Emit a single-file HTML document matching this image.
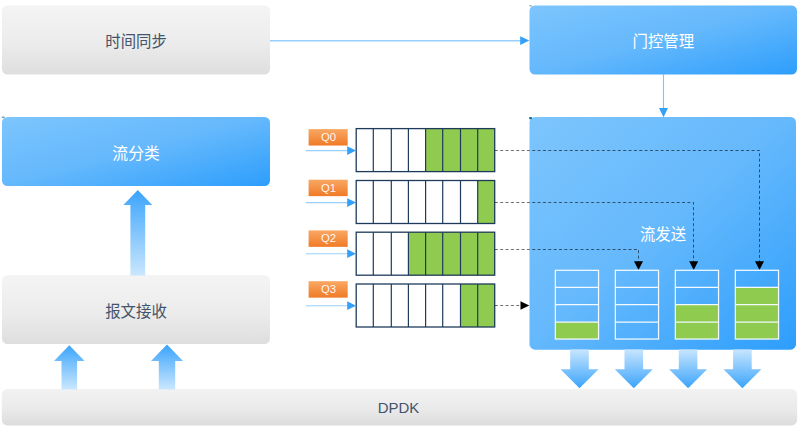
<!DOCTYPE html>
<html lang="zh"><head><meta charset="utf-8"><title>TSN</title>
<style>
html,body{margin:0;padding:0;background:#fff;}
body{width:800px;height:434px;position:relative;overflow:hidden;font-family:"Liberation Sans",sans-serif;}
svg{display:block;}
</style></head><body>
<svg width="800" height="434" viewBox="0 0 800 434" style="position:absolute;left:0;top:0">
<defs>
<linearGradient id="gUp1" x1="0" y1="190" x2="0" y2="275" gradientUnits="userSpaceOnUse"><stop offset="0" stop-color="#3BA4FB"/><stop offset="1" stop-color="#C9E6FE"/></linearGradient>
<linearGradient id="gUp2" x1="0" y1="345" x2="0" y2="389" gradientUnits="userSpaceOnUse"><stop offset="0" stop-color="#3BA4FB"/><stop offset="1" stop-color="#C9E6FE"/></linearGradient>
<linearGradient id="gDn" x1="0" y1="349" x2="0" y2="388" gradientUnits="userSpaceOnUse"><stop offset="0" stop-color="#C9E6FE"/><stop offset="1" stop-color="#3BA4FB"/></linearGradient>
<linearGradient id="gOr0" x1="0" y1="129.1" x2="0" y2="145.54999999999998" gradientUnits="userSpaceOnUse"><stop offset="0" stop-color="#F9A864"/><stop offset="1" stop-color="#F07A27"/></linearGradient>
<linearGradient id="gOr1" x1="0" y1="179.7" x2="0" y2="196.14999999999998" gradientUnits="userSpaceOnUse"><stop offset="0" stop-color="#F9A864"/><stop offset="1" stop-color="#F07A27"/></linearGradient>
<linearGradient id="gOr2" x1="0" y1="230.4" x2="0" y2="246.85" gradientUnits="userSpaceOnUse"><stop offset="0" stop-color="#F9A864"/><stop offset="1" stop-color="#F07A27"/></linearGradient>
<linearGradient id="gOr3" x1="0" y1="281.2" x2="0" y2="297.65" gradientUnits="userSpaceOnUse"><stop offset="0" stop-color="#F9A864"/><stop offset="1" stop-color="#F07A27"/></linearGradient>
<linearGradient id="gGray" x1="0" y1="0" x2="0" y2="1"><stop offset="0" stop-color="#f4f4f4"/><stop offset="0.55" stop-color="#ececec"/><stop offset="1" stop-color="#dedede"/></linearGradient>
<linearGradient id="gBar" x1="0" y1="0" x2="0" y2="1"><stop offset="0" stop-color="#f2f2f2"/><stop offset="0.6" stop-color="#e9e9e9"/><stop offset="1" stop-color="#dcdcdc"/></linearGradient>
<linearGradient id="gBlue" x1="0" y1="0" x2="1" y2="1"><stop offset="0" stop-color="#7DC5FD"/><stop offset="0.5" stop-color="#64B8FC"/><stop offset="1" stop-color="#2D9EFC"/></linearGradient>
</defs>
<rect x="2" y="5.5" width="268" height="69" rx="5.5" ry="5.5" fill="url(#gGray)"/>
<rect x="529.5" y="5.5" width="267.5" height="69" rx="5.5" ry="5.5" fill="url(#gBlue)"/>
<rect x="2" y="117" width="268" height="69" rx="5.5" ry="5.5" fill="url(#gBlue)"/>
<rect x="2" y="275" width="268" height="69" rx="5.5" ry="5.5" fill="url(#gGray)"/>
<rect x="529.5" y="117" width="266.5" height="232.7" rx="5.5" ry="5.5" fill="url(#gBlue)"/>
<rect x="1.8" y="388.9" width="795.3" height="36.5" rx="5.5" ry="5.5" fill="url(#gBar)"/>
<text transform="translate(377.66,412.66) scale(0.99,1.03)" x="0" y="0" font-family="'Liberation Sans', sans-serif" font-size="15.1" fill="#44546A">DPDK</text>
<line x1="270" y1="40.75" x2="522" y2="40.75" stroke="#98CFFB" stroke-width="1.4"/>
<path fill="#33A0FA" d="M520.2,36.2 L529.3,40.6 L520.2,45 Z"/>
<line x1="663.5" y1="74" x2="663.5" y2="109" stroke="#7EC3FA" stroke-width="1.1"/>
<path fill="#33A0FA" d="M659,108 L668,108 L663.5,117.2 Z"/>
<path fill="url(#gUp1)" d="M137.8,190 L152.3,205 L145.20000000000002,205 L145.20000000000002,275.5 L130.4,275.5 L130.4,205 L123.30000000000001,205 Z"/>
<path fill="url(#gUp2)" d="M69.3,345.2 L84.6,361 L77.1,361 L77.1,389.5 L61.5,389.5 L61.5,361 L54.0,361 Z"/>
<path fill="url(#gUp2)" d="M167,344.6 L183,361 L175.2,361 L175.2,389.5 L158.8,389.5 L158.8,361 L151,361 Z"/>
<path fill="url(#gDn)" d="M570.2,349.5 L588.8,349.5 L588.8,369.3 L598.5,369.3 L579.5,388.3 L560.5,369.3 L570.2,369.3 Z"/>
<path fill="url(#gDn)" d="M624.5,349.5 L643.0999999999999,349.5 L643.0999999999999,369.3 L652.8,369.3 L633.8,388.3 L614.8,369.3 L624.5,369.3 Z"/>
<path fill="url(#gDn)" d="M678.8000000000001,349.5 L697.4,349.5 L697.4,369.3 L707.1,369.3 L688.1,388.3 L669.1,369.3 L678.8000000000001,369.3 Z"/>
<path fill="url(#gDn)" d="M733.1,349.5 L751.6999999999999,349.5 L751.6999999999999,369.3 L761.4,369.3 L742.4,388.3 L723.4,369.3 L733.1,369.3 Z"/>
<rect x="356.2" y="128.6" width="138.5" height="43.0" fill="#fff"/>
<rect x="425.60" y="128.6" width="69.10" height="43.0" fill="#8FCB4E"/>
<path d="M373.30,128.6 V171.6M391.30,128.6 V171.6M408.40,128.6 V171.6M425.60,128.6 V171.6M442.70,128.6 V171.6M460.50,128.6 V171.6M477.70,128.6 V171.6" stroke="#1F3B5C" stroke-width="1.2" fill="none"/>
<rect x="356.2" y="128.6" width="138.5" height="43.0" fill="none" stroke="#1F3B5C" stroke-width="1.3"/>
<line x1="305.8" y1="150.55" x2="349" y2="150.55" stroke="#98CFFB" stroke-width="1.15"/>
<path fill="#33A0FA" d="M347.2,146.2 L356,150.55 L347.2,155.0 Z"/>
<rect x="356.2" y="180.5" width="138.5" height="43.0" fill="#fff"/>
<rect x="477.70" y="180.5" width="17.00" height="43.0" fill="#8FCB4E"/>
<path d="M373.30,180.5 V223.5M391.30,180.5 V223.5M408.40,180.5 V223.5M425.60,180.5 V223.5M442.70,180.5 V223.5M460.50,180.5 V223.5M477.70,180.5 V223.5" stroke="#1F3B5C" stroke-width="1.2" fill="none"/>
<rect x="356.2" y="180.5" width="138.5" height="43.0" fill="none" stroke="#1F3B5C" stroke-width="1.3"/>
<line x1="305.8" y1="202.6" x2="349" y2="202.6" stroke="#98CFFB" stroke-width="1.15"/>
<path fill="#33A0FA" d="M347.2,198.2 L356,202.6 L347.2,207.0 Z"/>
<rect x="356.2" y="232.2" width="138.5" height="43.0" fill="#fff"/>
<rect x="408.40" y="232.2" width="86.30" height="43.0" fill="#8FCB4E"/>
<path d="M373.30,232.2 V275.2M391.30,232.2 V275.2M408.40,232.2 V275.2M425.60,232.2 V275.2M442.70,232.2 V275.2M460.50,232.2 V275.2M477.70,232.2 V275.2" stroke="#1F3B5C" stroke-width="1.2" fill="none"/>
<rect x="356.2" y="232.2" width="138.5" height="43.0" fill="none" stroke="#1F3B5C" stroke-width="1.3"/>
<line x1="305.8" y1="253.7" x2="349" y2="253.7" stroke="#98CFFB" stroke-width="1.15"/>
<path fill="#33A0FA" d="M347.2,249.3 L356,253.7 L347.2,258.1 Z"/>
<rect x="356.2" y="284.0" width="138.5" height="43.0" fill="#fff"/>
<rect x="460.50" y="284.0" width="34.20" height="43.0" fill="#8FCB4E"/>
<path d="M373.30,284.0 V327.0M391.30,284.0 V327.0M408.40,284.0 V327.0M425.60,284.0 V327.0M442.70,284.0 V327.0M460.50,284.0 V327.0M477.70,284.0 V327.0" stroke="#1F3B5C" stroke-width="1.2" fill="none"/>
<rect x="356.2" y="284.0" width="138.5" height="43.0" fill="none" stroke="#1F3B5C" stroke-width="1.3"/>
<line x1="305.8" y1="305.7" x2="349" y2="305.7" stroke="#98CFFB" stroke-width="1.15"/>
<path fill="#33A0FA" d="M347.2,301.3 L356,305.7 L347.2,310.1 Z"/>
<path d="M494.8,150.5 H759.5 V262" fill="none" stroke="#000" stroke-width="1" stroke-dasharray="3 2.35" stroke-opacity="0.56"/>
<path fill="#000" d="M755.0,261.3 L764.0,261.3 L759.5,270.0 Z"/>
<path d="M494.8,202.5 H693.5 V262" fill="none" stroke="#000" stroke-width="1" stroke-dasharray="3 2.35" stroke-opacity="0.56"/>
<path fill="#000" d="M689.2,261.3 L698.2,261.3 L693.7,270.0 Z"/>
<path d="M494.8,249.5 H638.5 V262" fill="none" stroke="#000" stroke-width="1" stroke-dasharray="3 2.35" stroke-opacity="0.56"/>
<path fill="#000" d="M634.0,261.3 L643.0,261.3 L638.5,270.0 Z"/>
<path d="M494.8,305.5 H522" fill="none" stroke="#000" stroke-width="1" stroke-dasharray="3 2.35" stroke-opacity="0.56"/>
<path fill="#000" d="M520.5,301.2 L529.3,305.5 L520.5,309.8 Z"/>
<rect x="555.35" y="322.0" width="43.2" height="17.05000000000001" fill="#8FCB4E"/>
<path d="M555.35,287.45 H598.5500000000001M555.35,304.6 H598.5500000000001M555.35,322.0 H598.5500000000001" stroke="#F4FAFF" stroke-width="1.25" fill="none"/>
<rect x="555.35" y="270.3" width="43.2" height="68.75" fill="none" stroke="#F4FAFF" stroke-width="1.25"/>
<path d="M615.35,287.45 H658.5500000000001M615.35,304.6 H658.5500000000001M615.35,322.0 H658.5500000000001" stroke="#F4FAFF" stroke-width="1.25" fill="none"/>
<rect x="615.35" y="270.3" width="43.2" height="68.75" fill="none" stroke="#F4FAFF" stroke-width="1.25"/>
<rect x="675.35" y="304.6" width="43.2" height="34.44999999999999" fill="#8FCB4E"/>
<path d="M675.35,287.45 H718.5500000000001M675.35,304.6 H718.5500000000001M675.35,322.0 H718.5500000000001" stroke="#F4FAFF" stroke-width="1.25" fill="none"/>
<rect x="675.35" y="270.3" width="43.2" height="68.75" fill="none" stroke="#F4FAFF" stroke-width="1.25"/>
<rect x="735.35" y="287.45" width="43.2" height="51.60000000000002" fill="#8FCB4E"/>
<path d="M735.35,287.45 H778.5500000000001M735.35,304.6 H778.5500000000001M735.35,322.0 H778.5500000000001" stroke="#F4FAFF" stroke-width="1.25" fill="none"/>
<rect x="735.35" y="270.3" width="43.2" height="68.75" fill="none" stroke="#F4FAFF" stroke-width="1.25"/>
<rect x="529.3" y="5.2" width="2.6" height="1.2" fill="#7FAAB8"/>
<rect x="529.2" y="116.9" width="2.7" height="2.3" rx="0.6" fill="#0B6FA0"/>
<rect x="1.8" y="116.6" width="2.8" height="1.2" fill="#5A8FA5"/>
<rect x="308.6" y="129.1" width="39.1" height="16.45" fill="url(#gOr0)"/>
<text x="328.6" y="141.05" text-anchor="middle" font-family="'Liberation Sans', sans-serif" font-size="11.3" fill="#fff" fill-opacity="0.95">Q0</text>
<rect x="308.6" y="179.7" width="39.1" height="16.45" fill="url(#gOr1)"/>
<text x="328.6" y="191.65" text-anchor="middle" font-family="'Liberation Sans', sans-serif" font-size="11.3" fill="#fff" fill-opacity="0.95">Q1</text>
<rect x="308.6" y="230.4" width="39.1" height="16.45" fill="url(#gOr2)"/>
<text x="328.6" y="242.35" text-anchor="middle" font-family="'Liberation Sans', sans-serif" font-size="11.3" fill="#fff" fill-opacity="0.95">Q2</text>
<rect x="308.6" y="281.2" width="39.1" height="16.45" fill="url(#gOr3)"/>
<text x="328.6" y="293.15" text-anchor="middle" font-family="'Liberation Sans', sans-serif" font-size="11.3" fill="#fff" fill-opacity="0.95">Q3</text>
<text transform="translate(105.26,47.25) scale(1,1.07)" x="0" y="0" font-family="'Liberation Sans', 'Noto Sans CJK SC', sans-serif" font-size="15.4" fill="#44546A">时间同步</text>
<text transform="translate(632.54,46.99) scale(1,1.07)" x="0" y="0" font-family="'Liberation Sans', 'Noto Sans CJK SC', sans-serif" font-size="15.4" fill="#fff">门控管理</text>
<text transform="translate(112.33,158.74) scale(1.028,1.07)" x="0" y="0" font-family="'Liberation Sans', 'Noto Sans CJK SC', sans-serif" font-size="15.4" fill="#fff">流分类</text>
<text transform="translate(105.23,317.00) scale(1,1.07)" x="0" y="0" font-family="'Liberation Sans', 'Noto Sans CJK SC', sans-serif" font-size="15.4" fill="#44546A">报文接收</text>
<text transform="translate(639.91,240.07) scale(1,1.07)" x="0" y="0" font-family="'Liberation Sans', 'Noto Sans CJK SC', sans-serif" font-size="15.4" fill="#fff">流发送</text>
</svg>
</body></html>
